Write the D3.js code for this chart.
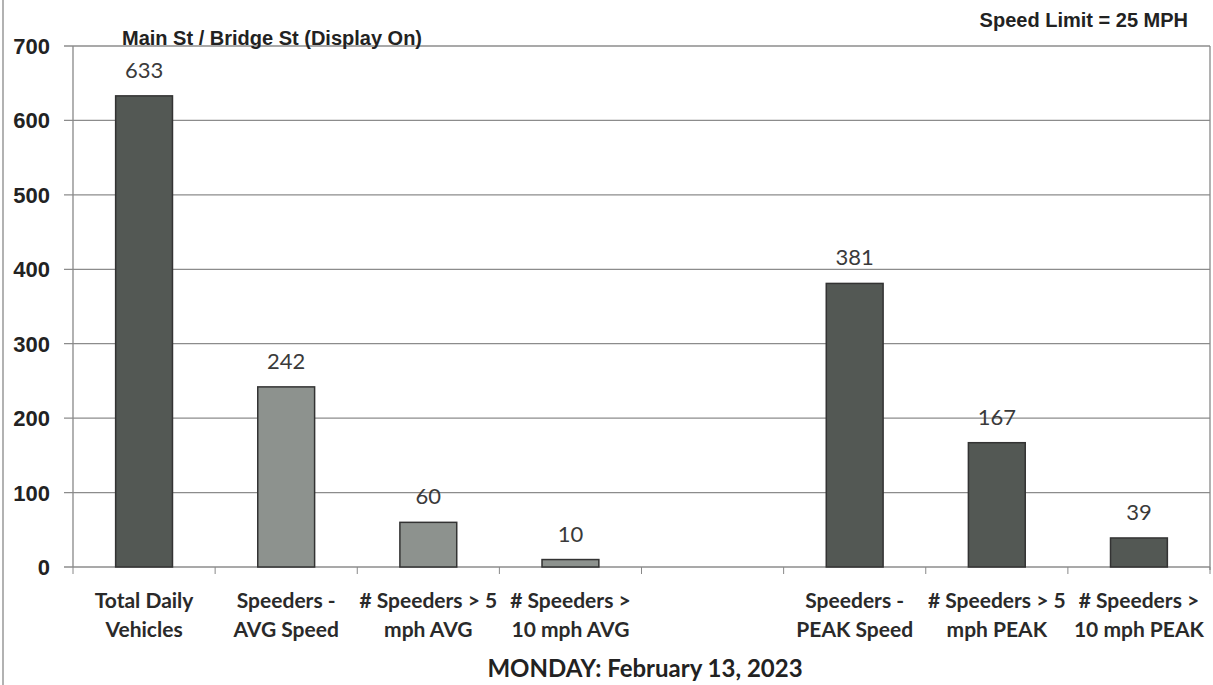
<!DOCTYPE html>
<html>
<head>
  <meta charset="utf-8">
  <script src="https://d3js.org/d3.v7.min.js"></script>
  <style>
    body { margin: 0; background: #fff; }
    .grid line { stroke: #8c8c8c; stroke-width: 1.3px; }
    .ytick text { font-family: "Liberation Sans", Arial, sans-serif; font-weight: bold; font-size: 22px; fill: #222; }
    .cat text { font-family: Lato, "Open Sans", sans-serif; font-weight: bold; font-size: 21px; fill: #2a2a2a; }
    .val { font-family: Lato, "Open Sans", sans-serif; font-size: 22px; fill: #3a3a3a; }
  </style>
</head>
<body>

<script>
  var width = 1213,
      height = 685;

  var categories = [
    ["Total Daily", "Vehicles"],
    ["Speeders -", "AVG Speed"],
    ["# Speeders > 5", "mph AVG"],
    ["# Speeders >", "10 mph AVG"],
    ["", ""],
    ["Speeders -", "PEAK Speed"],
    ["# Speeders > 5", "mph PEAK"],
    ["# Speeders >", "10 mph PEAK"]
  ];
  var values = [633, 242, 60, 10, null, 381, 167, 39];
  var kinds = ["dark", "light", "light", "light", null, "dark", "dark", "dark"];
  var yTicks = [0, 100, 200, 300, 400, 500, 600, 700];

  var colors = { dark: "#535854", light: "#8d928e" };

  var plotLeft = 73, plotRight = 1210, plotTop = 46, plotBottom = 567;

  var svg = d3.select("body")
      .append("svg")
      .attr("width", width)
      .attr("height", height);

  var x = d3.scaleBand()
      .domain(d3.range(categories.length))
      .range([plotLeft, plotRight])
      .paddingInner(0.6)
      .paddingOuter(0.3);

  var y = d3.scaleLinear()
      .domain([0, 700])
      .range([plotBottom, plotTop]);

  // outer border on the left
  svg.append("line")
      .attr("x1", 3).attr("x2", 3)
      .attr("y1", 0).attr("y2", height)
      .attr("stroke", "#999").attr("stroke-width", 1.5);

  // gridlines
  svg.append("g").attr("class", "grid")
    .selectAll("line")
    .data(yTicks)
    .enter().append("line")
      .attr("x1", plotLeft - 9)
      .attr("x2", plotRight)
      .attr("y1", function(d) { return y(d); })
      .attr("y2", function(d) { return y(d); });

  // plot frame (left axis + right edge)
  svg.append("line")
      .attr("x1", plotLeft).attr("x2", plotLeft)
      .attr("y1", y(700)).attr("y2", y(0))
      .attr("stroke", "#888").attr("stroke-width", 1.3);
  svg.append("line")
      .attr("x1", plotRight).attr("x2", plotRight)
      .attr("y1", y(700)).attr("y2", y(0) + 3)
      .attr("stroke", "#888").attr("stroke-width", 1.3);

  // category tick marks
  svg.append("g")
    .selectAll("line")
    .data(d3.range(categories.length + 1))
    .enter().append("line")
      .attr("x1", function(i) { return plotLeft + i * (plotRight - plotLeft) / categories.length; })
      .attr("x2", function(i) { return plotLeft + i * (plotRight - plotLeft) / categories.length; })
      .attr("y1", y(0))
      .attr("y2", y(0) + 7)
      .attr("stroke", "#888");

  // y labels
  svg.append("g").attr("class", "ytick")
    .selectAll("text")
    .data(yTicks)
    .enter().append("text")
      .attr("x", 50)
      .attr("y", function(d) { return y(d) + 8; })
      .attr("text-anchor", "end")
      .text(function(d) { return d; });

  // bars
  var barData = values.map(function(v, i) { return { i: i, v: v, k: kinds[i] }; })
      .filter(function(d) { return d.v !== null; });

  svg.selectAll(".bar")
      .data(barData)
      .enter().append("rect")
      .attr("class", "bar")
      .attr("x", function(d) { return x(d.i); })
      .attr("width", x.bandwidth())
      .attr("y", function(d) { return y(d.v); })
      .attr("height", function(d) { return y(0) - y(d.v); })
      .attr("fill", function(d) { return colors[d.k]; })
      .attr("stroke", "#333")
      .attr("stroke-width", 1.5);

  svg.selectAll(".val")
      .data(barData)
      .enter().append("text")
      .attr("class", "val")
      .attr("x", function(d) { return x(d.i) + x.bandwidth() / 2; })
      .attr("y", function(d) { return y(d.v) - 18; })
      .attr("text-anchor", "middle")
      .text(function(d) { return d.v; });

  // category labels
  var cat = svg.append("g").attr("class", "cat")
    .selectAll("text")
    .data(categories)
    .enter().append("text")
      .attr("text-anchor", "middle");
  cat.append("tspan")
      .attr("x", function(d, i) { return x(i) + x.bandwidth() / 2; })
      .attr("y", 608)
      .text(function(d) { return d[0]; });
  cat.append("tspan")
      .attr("x", function(d, i) { return x(i) + x.bandwidth() / 2; })
      .attr("y", 637)
      .text(function(d) { return d[1]; });

  // titles
  svg.append("text")
      .attr("x", 122).attr("y", 45)
      .style("font-family", "'Liberation Sans', Arial, sans-serif")
      .style("font-weight", "bold").style("font-size", "20px").style("fill", "#222")
      .text("Main St / Bridge St (Display On)");

  svg.append("text")
      .attr("x", 1188).attr("y", 27)
      .attr("text-anchor", "end")
      .style("font-family", "'Liberation Sans', Arial, sans-serif")
      .style("font-weight", "bold").style("font-size", "20px").style("fill", "#222")
      .text("Speed Limit = 25 MPH");

  svg.append("text")
      .attr("x", 645).attr("y", 677)
      .attr("text-anchor", "middle")
      .style("font-family", "Lato, 'Open Sans', sans-serif")
      .style("font-weight", "bold").style("font-size", "24px").style("fill", "#222")
      .text("MONDAY: February 13, 2023");
</script>

</body>
</html>
